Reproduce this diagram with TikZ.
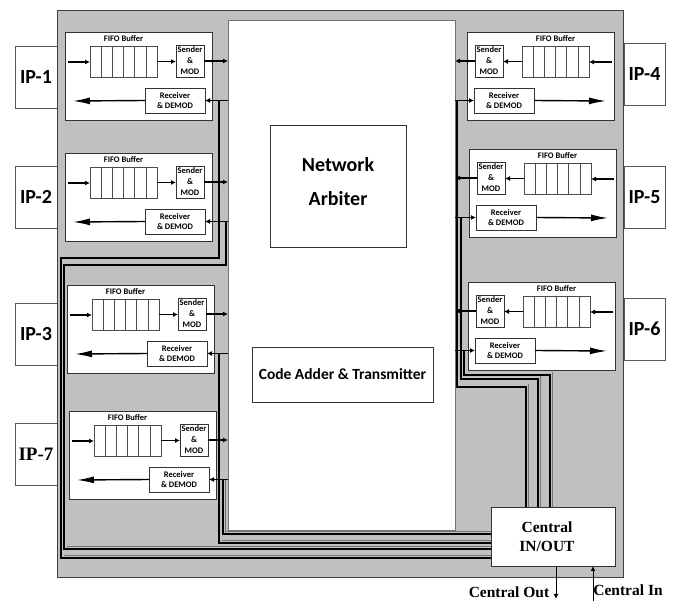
\documentclass[tikz,border=0pt]{standalone}
\usepackage{fontspec}
\newfontfamily\calfont{Carlito}
\newfontfamily\tmsfont{Liberation Serif}
\usetikzlibrary{arrows.meta,calc}
\definecolor{graybg}{RGB}{192,192,192}
\tikzset{
  graybox/.style={draw=black!75, line width=0.8pt, fill=graybg, inner sep=0pt, outer sep=0pt, anchor=north west},
  whitebox/.style={draw=black!65, line width=0.8pt, fill=white, inner sep=0pt, outer sep=0pt, anchor=north west},
  ipbox/.style={whitebox, minimum width=42pt, minimum height=62pt, font=\calfont\bfseries\fontsize{20}{24}\selectfont},
  modbox/.style={whitebox, draw=black!80, minimum width=147pt, minimum height=88pt},
  fifobox/.style={whitebox, draw=black!70, line width=0.6pt, minimum width=67pt, minimum height=31pt},
  cellline/.style={draw=black!70, line width=0.6pt},
  sbox/.style={whitebox, draw=black!80, minimum width=28pt, minimum height=32pt, align=center, font=\calfont\bfseries\fontsize{8.5}{11}\selectfont},
  rbox/.style={whitebox, draw=black!80, minimum width=60pt, minimum height=25pt, align=center, font=\calfont\bfseries\fontsize{8.5}{10.5}\selectfont},
  smalllbl/.style={inner sep=0pt, font=\calfont\bfseries\fontsize{8.5}{10}\selectfont},
  arr/.style={draw=black, line width=1.3pt, -{Latex[length=5pt,width=5pt]}},
  bigarr/.style={draw=black, line width=1.4pt, -{Latex[length=17pt,width=7pt]}},
  wire/.style={draw=black, line width=1.8pt},
  wireshade/.style={draw=black!55, line width=0.9pt},
}
\newcommand\lmod[3]{%
  \begin{scope}[shift={(#2,#3)}]
    \node[modbox] (#1) at (0,0) {};
    \node[fifobox] (#1f) at (25,14) {};
    \foreach \i in {1,...,5} \draw[cellline] ({25+\i*67/6},14) -- ({25+\i*67/6},45);
    \node[smalllbl] (#1fl) at (58.5,7) {FIFO Buffer};
    \node[sbox] (#1s) at (111,13) {Sender\\\&\\MOD};
    \node[rbox] (#1r) at (80,56) {Receiver\\\& DEMOD};
    \coordinate (#1in) at (3,30);
    \coordinate (#1out) at (8,69);
    \draw[arr] (#1in) -- (#1in -| #1f.west);
    \draw[arr] (#1f.east) -- (#1f.east -| #1s.west);
    \draw[bigarr] (#1r.west) -- (#1out);
  \end{scope}}
\newcommand\rmod[3]{%
  \begin{scope}[shift={(#2,#3)}]
    \node[modbox] (#1) at (0,0) {};
    \node[fifobox] (#1f) at (55,14) {};
    \foreach \i in {1,...,5} \draw[cellline] ({55+\i*67/6},14) -- ({55+\i*67/6},45);
    \node[smalllbl] (#1fl) at (88.5,7) {FIFO Buffer};
    \node[sbox] (#1s) at (8,13) {Sender\\\&\\MOD};
    \node[rbox] (#1r) at (7,56) {Receiver\\\& DEMOD};
    \coordinate (#1in) at (145,30);
    \coordinate (#1out) at (139,69);
    \draw[arr] (#1in) -- (#1in -| #1f.east);
    \draw[arr] (#1f.west) -- (#1f.west -| #1s.east);
    \draw[bigarr] (#1r.east) -- (#1out);
  \end{scope}}
\begin{document}
\begin{tikzpicture}[x=1pt,y=-1pt]
\useasboundingbox (0,0) rectangle (673,601);
% IP boxes
\node[ipbox] (ip1) at (15,46) {IP-1};
\node[ipbox] (ip2) at (15,166) {IP-2};
\node[ipbox] (ip3) at (15,303) {IP-3};
\node[ipbox, font=\tmsfont\bfseries\fontsize{19}{23}\selectfont] (ip7) at (15,423) {IP-7};
\node[ipbox, minimum width=41pt] (ip4) at (624,43) {IP-4};
\node[ipbox, minimum width=41pt] (ip5) at (624,166) {IP-5};
\node[ipbox, minimum width=41pt] (ip6) at (624,298) {IP-6};
% gray background
\node[graybox, minimum width=566pt, minimum height=567pt] (bg) at (57,10) {};
% central box
\node[whitebox, draw=black!55, minimum width=227pt, minimum height=510pt] (cb) at (228,20) {};
\node[whitebox, draw=black!80, minimum width=136pt, minimum height=122pt] (na) at (270,125) {};
\node[align=center, inner sep=0pt, font=\calfont\bfseries\fontsize{20}{34}\selectfont] (natext) at (338,182) {Network\\Arbiter};
\node[whitebox, draw=black!80, minimum width=181pt, minimum height=55pt, font=\calfont\bfseries\fontsize{15.5}{18}\selectfont] (ca) at (252,347) {Code Adder \& Transmitter};
% modules
\lmod{ma}{65}{32}
\lmod{mb}{65}{153}
\lmod{mc}{67}{285}
\lmod{md}{69}{411}
\rmod{me}{467}{32}
\rmod{mf}{469}{149}
\rmod{mg}{468}{282}
% central in/out
\node[whitebox, draw=black!80, minimum width=124pt, minimum height=59pt] (cio) at (491,507) {};
\node[align=center, inner sep=0pt, font=\tmsfont\bfseries\fontsize{15.5}{19}\selectfont] (ciotext) at (547,537) {Central\\IN/OUT};
% left wires
\coordinate (wa) at ($(mar.east -| cb.west)+(-9,0)$);
\coordinate (wb) at ($(mbr.east -| cb.west)+(-2,0)$);
\coordinate (wc) at ($(mcr.east -| cb.west)+(-9,0)$);
\coordinate (wd) at ($(mdr.east -| cb.west)+(-5,0)$);
\draw[wireshade] (64,555.4) -- ($(cio.north west)+(0,48.4)$);
\draw[wireshade] (66.6,546.4) -- ($(cio.north west)+(0,39.4)$);
\draw[wireshade] (221.6,540.4) -- ($(cio.north west)+(0,33.4)$);
\draw[wireshade] ($(wd)+(2.8,0)$) -- (225.8,531.4) -- ($(cio.north west)+(0,24.4)$);
\draw[wire] (wa) -- (219,258) -- (61,258) -- (61,558) -- ($(cio.north west)+(0,51)$);
\draw[wire] (wb) -- (226,265) -- (64,265) -- (64,549) -- ($(cio.north west)+(0,42)$);
\draw[wire] (wc) -- (219,543) -- ($(cio.north west)+(0,36)$);
\draw[wire] (wd) -- (223,534) -- ($(cio.north west)+(0,27)$);
% right wires
\coordinate (we) at ($(mer.west -| cb.east)+(2,0)$);
\coordinate (wf) at ($(mfr.west -| cb.east)+(6,0)$);
\coordinate (wg) at ($(mgr.west -| cb.east)+(9,0)$);
\draw[wireshade] (528.6,384.4) -- ($(cio.north west)+(37.6,0)$);
\draw[wireshade] (540.6,376.4) -- ($(cio.north west)+(49.6,0)$);
\draw[wireshade] (552.6,372.4) -- ($(cio.north west)+(61.6,0)$);
\draw[wire] (we) -- (457,387) -- (526,387) -- ($(cio.north west)+(35,0)$);
\draw[wire] (wf) -- (461,379) -- (538,379) -- ($(cio.north west)+(47,0)$);
\draw[wire] (wg) -- (464,375) -- (550,375) -- ($(cio.north west)+(59,0)$);
% sender outputs into central box
\foreach \m in {ma,mb,mc,md} \draw[arr] (\m s.east) -- (\m s.east -| cb.west);
\foreach \m in {me,mf,mg} \draw[arr] (\m s.west) -- (\m s.west -| cb.east);
% receiver inputs from central box edge
\foreach \m in {ma,mb,mc,md} \draw[arr] (\m r.east -| cb.west) -- (\m r.east);
\foreach \m in {me,mf,mg} \draw[arr] (\m r.west -| cb.east) -- (\m r.west);
% central out / in
\coordinate (cout) at (556,599);
\coordinate (cin) at (593,601);
\draw[arr, line width=1pt] (cio.south -| cout) -- (cout);
\draw[arr, line width=1pt] (cin) -- (cio.south -| cin);
\node[inner sep=0pt, font=\tmsfont\bfseries\fontsize{15.5}{18}\selectfont] (couttext) at (509,592) {Central Out};
\node[inner sep=0pt, font=\tmsfont\bfseries\fontsize{15.5}{18}\selectfont] (cintext) at (628,590) {Central In};
\end{tikzpicture}
\end{document}
